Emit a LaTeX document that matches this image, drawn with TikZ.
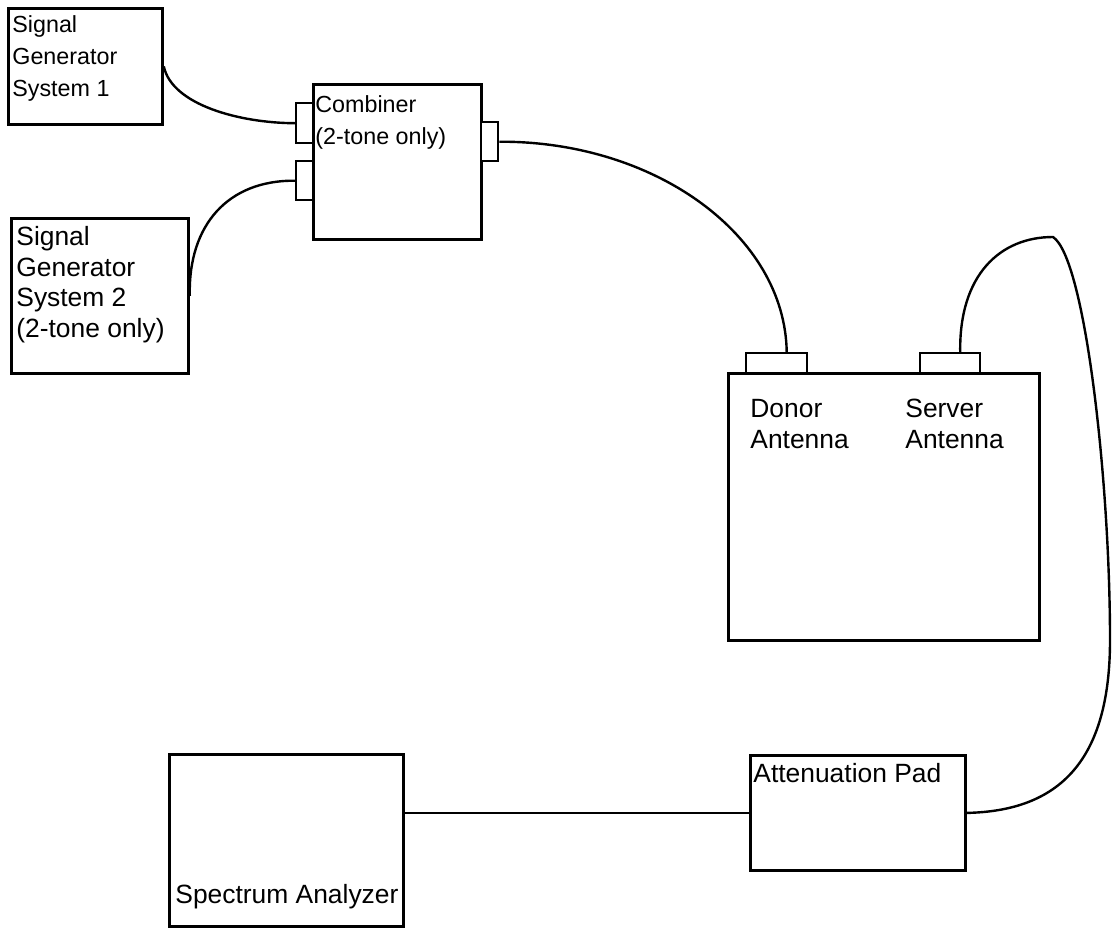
\documentclass[tikz,border=0pt]{standalone}
\usepackage{fontspec}
\setmainfont{Liberation Sans}
\begin{document}
\begin{tikzpicture}[x=0.5pt,y=-0.5pt,
  box/.style={draw,line width=1.4pt,rectangle,inner sep=0pt,anchor=north west},
  port/.style={draw,line width=1.2pt,rectangle,inner sep=0pt,anchor=north west,fill=white},
  txs/.style={anchor=north west,inner sep=0pt,align=left,font=\fontsize{11.65}{16}\selectfont},
  txl/.style={anchor=north west,inner sep=0pt,align=left,font=\fontsize{13.2}{15.3}\selectfont},
  cable/.style={line width=1.2pt}]
\useasboundingbox (0,0) rectangle (1112,927);
% boxes
\node[box,minimum width=77pt,minimum height=58pt] (sg1) at (7,7) {};
\node[box,minimum width=88.5pt,minimum height=77.5pt] (sg2) at (10,217) {};
\node[box,minimum width=84pt,minimum height=77.5pt] (comb) at (312,83) {};
\node[box,minimum width=155.5pt,minimum height=133.5pt] (rep) at (727,372) {};
\node[box,minimum width=107.5pt,minimum height=57.5pt] (pad) at (749,754) {};
\node[box,minimum width=117pt,minimum height=86pt] (sa) at (168,753) {};
% ports
\node[port,minimum width=8.5pt,minimum height=20pt] (c1) at (295,102) {};
\node[port,minimum width=8.5pt,minimum height=19.5pt] (c2) at (295,160) {};
\node[port,minimum width=8.5pt,minimum height=19.5pt] (c3) at (480,121) {};
\node[port,minimum width=30.5pt,minimum height=10pt] (dp) at (745,352) {};
\node[port,minimum width=30pt,minimum height=10pt] (sp) at (919,352) {};
% texts
\node[txs] (t1) at (12,15) {Signal\\Generator\\System 1};
\node[txl] (t2) at (16,226) {Signal\\Generator\\System 2\\(2-tone only)};
\node[txs] (t3) at (315,95) {Combiner\\(2-tone only)};
\node[txl] (t4) at (750,399) {Donor\\Antenna};
\node[txl] (t5) at (905,399) {Server\\Antenna};
\node[txl] (t6) at (753,763) {Attenuation Pad};
\node[txl] (t7) at (175,884) {Spectrum Analyzer};
% cables
\draw[cable] (sg1.east) .. controls (172,105) and (240,123) .. (c1.west);
\draw[cable] (sg2.east) .. controls (188,225) and (228,180) .. (c2.west);
\draw[cable] (c3.east) .. controls (656,141) and (785,236) .. ([xshift=5pt]dp.north);
\coordinate (peak) at (1053,237);
\coordinate (rside) at (1110,640);
\draw[cable] ([xshift=5pt]sp.north) .. controls (959,275) and (1000,237) .. (peak)
  .. controls (1085,258) and (1110,480) .. (rside)
  .. controls (1110,760) and (1060,811) .. (pad.east);
\draw[cable] (sa.east |- pad.west) -- (pad.west);
\end{tikzpicture}
\end{document}
